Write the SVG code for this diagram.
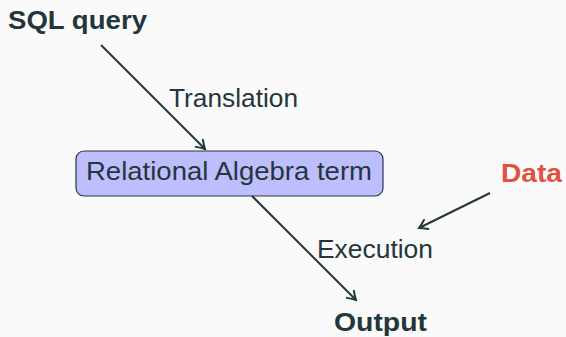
<svg xmlns="http://www.w3.org/2000/svg" width="566" height="337" viewBox="0 0 566 337">
<defs>
<style>
text{font-family:"Liberation Sans",Arial,sans-serif;fill:#23373b;font-size:26px}
.b{font-weight:bold}
.red{fill:#e0523f}
.conn line{stroke:#23373b;stroke-width:2;fill:none}
</style>
<marker id="ah" viewBox="-10 -6 12 12" markerWidth="12" markerHeight="12" refX="0" refY="0" orient="auto" markerUnits="userSpaceOnUse">
<path d="M-8,-5 Q-3,-1.5 0,0 Q-3,1.5 -8,5" fill="none" stroke="#23373b" stroke-width="2" stroke-linecap="round"/>
</marker>
</defs>
<rect width="566" height="337" fill="#fafafa"/>
<g id="sql"><text class="b" x="8" y="29" textLength="139" lengthAdjust="spacingAndGlyphs">SQL query</text></g>
<g id="ra">
<rect x="76" y="151" width="307" height="45" rx="8" fill="#bebeff" stroke="#23373b" stroke-width="1.2"/>
<text x="86" y="180" textLength="286" lengthAdjust="spacingAndGlyphs">Relational Algebra term</text>
</g>
<g id="data"><text class="b red" x="501" y="182" textLength="61" lengthAdjust="spacingAndGlyphs">Data</text></g>
<g id="output"><text class="b" x="334" y="331" textLength="93" lengthAdjust="spacingAndGlyphs">Output</text></g>
<g id="connectors" class="conn">
<line x1="101" y1="45" x2="205" y2="149" marker-end="url(#ah)"/>
<line x1="252" y1="196" x2="356" y2="300" marker-end="url(#ah)"/>
<line x1="490" y1="193" x2="419" y2="228" marker-end="url(#ah)"/>
</g>
<g id="labels">
<text x="169" y="107" textLength="129" lengthAdjust="spacingAndGlyphs">Translation</text>
<text x="317" y="258" textLength="116" lengthAdjust="spacingAndGlyphs">Execution</text>
</g>
</svg>
